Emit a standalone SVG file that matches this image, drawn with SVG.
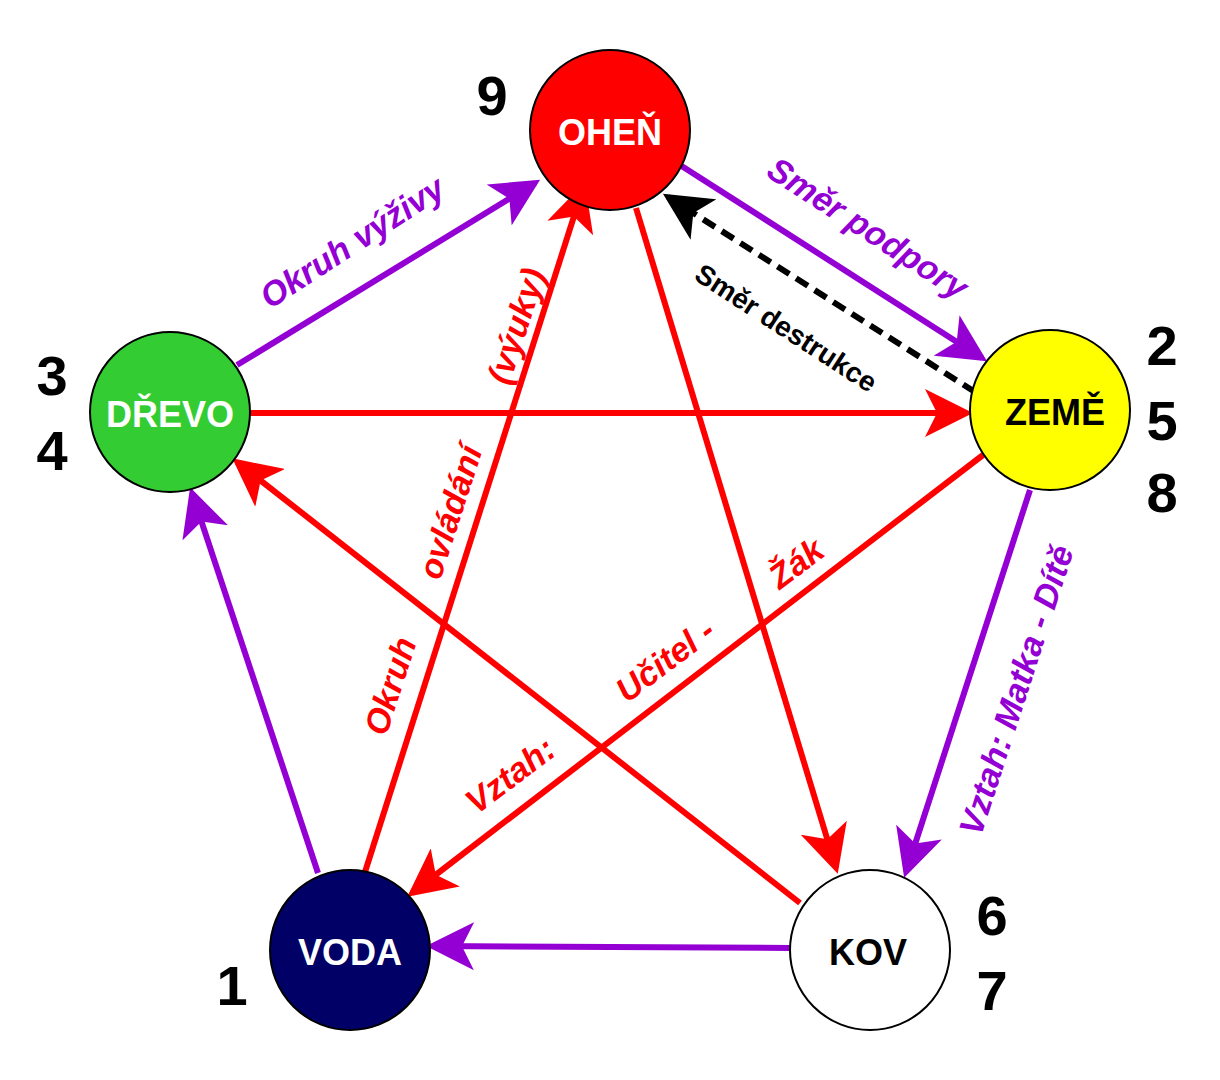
<svg xmlns="http://www.w3.org/2000/svg" width="1220" height="1080" viewBox="0 0 1220 1080">
<style>
.n{stroke:#000;stroke-width:2}
.t{font-family:"Liberation Sans",Arial,sans-serif;font-weight:bold;text-anchor:middle;dominant-baseline:central}
.nt{font-size:36px}
.num{font-family:"Liberation Sans",Arial,sans-serif;font-weight:bold;font-size:56px;text-anchor:middle;dominant-baseline:central}
.lbl{font-family:"Liberation Sans",Arial,sans-serif;font-weight:bold;font-style:italic;font-size:34px;text-anchor:middle;dominant-baseline:central}
.p{stroke:#9400D3;stroke-width:6;fill:none;marker-end:url(#ap)}
.r{stroke:#FF0000;stroke-width:6;fill:none;marker-end:url(#ar)}
.k{stroke:#000;stroke-width:6;stroke-dasharray:14,8;fill:none;marker-end:url(#ak)}
</style>
<defs>
<marker id="ap" markerWidth="8" markerHeight="8" refX="7" refY="4" orient="auto" markerUnits="strokeWidth"><path d="M0,0L8,4L0,8L2,4z" fill="#9400D3"/></marker>
<marker id="ar" markerWidth="8" markerHeight="8" refX="7" refY="4" orient="auto" markerUnits="strokeWidth"><path d="M0,0L8,4L0,8L2,4z" fill="#FF0000"/></marker>
<marker id="ak" markerWidth="8" markerHeight="8" refX="7" refY="4" orient="auto" markerUnits="strokeWidth"><path d="M0,0L8,4L0,8L2,4z" fill="#000"/></marker>
</defs>
<rect width="1220" height="1080" fill="#fff"/>
<g id="connectors">
<line class="p" x1="237" y1="365" x2="535" y2="183"/>
<line class="p" x1="680" y1="165" x2="982" y2="358"/>
<line class="k" x1="975" y1="392" x2="668" y2="197"/>
<line class="r" x1="250" y1="413" x2="967" y2="413"/>
<line class="p" x1="1030" y1="490" x2="906" y2="872"/>
<line class="p" x1="790" y1="948" x2="432" y2="946"/>
<line class="p" x1="318" y1="873" x2="192" y2="493"/>
<line class="r" x1="365" y1="872" x2="583" y2="188"/>
<line class="r" x1="636" y1="208" x2="836" y2="868"/>
<line class="r" x1="983" y1="455" x2="412" y2="893"/>
<line class="r" x1="800" y1="903" x2="237" y2="462"/>
</g>
<g id="labels">
<text class="lbl" fill="#9400D3" transform="translate(352,242) rotate(-33)">Okruh výživy</text>
<text class="lbl" fill="#9400D3" transform="translate(868,228) rotate(33)">Směr podpory</text>
<text class="lbl" fill="#000" font-size="28" transform="translate(786,328) rotate(33)" style="font-style:normal;font-size:28px">Směr destrukce</text>
<text class="lbl" fill="#9400D3" transform="translate(1016,690) rotate(-72)">Vztah: Matka - Dítě</text>
<text class="lbl" fill="#FF0000" transform="translate(390,686) rotate(-72)">Okruh</text>
<text class="lbl" fill="#FF0000" transform="translate(450,512) rotate(-72)">ovládání</text>
<text class="lbl" fill="#FF0000" transform="translate(516,326) rotate(-72)">(výuky)</text>
<text class="lbl" fill="#FF0000" transform="translate(510,775) rotate(-37)">Vztah:</text>
<text class="lbl" fill="#FF0000" transform="translate(665,660) rotate(-37)">Učitel -</text>
<text class="lbl" fill="#FF0000" transform="translate(796,563) rotate(-37)">Žák</text>
</g>
<g id="ohen"><circle class="n" cx="610" cy="130" r="80" fill="#FF0000"/><text class="t nt" x="610" y="132" fill="#fff">OHEŇ</text></g>
<g id="zeme"><circle class="n" cx="1050" cy="410" r="80" fill="#FFFF00"/><text class="t nt" x="1055" y="412" fill="#000">ZEMĚ</text></g>
<g id="drevo"><circle class="n" cx="170" cy="412" r="80" fill="#33CC33"/><text class="t nt" x="170" y="414" fill="#fff">DŘEVO</text></g>
<g id="voda"><circle class="n" cx="350" cy="950" r="80" fill="#000066"/><text class="t nt" x="350" y="952" fill="#fff">VODA</text></g>
<g id="kov"><circle class="n" cx="870" cy="950" r="80" fill="#fff"/><text class="t nt" x="868" y="952" fill="#000">KOV</text></g>
<g id="numbers">
<text class="num" x="492" y="95">9</text>
<text class="num" x="52" y="375">3</text>
<text class="num" x="52" y="450">4</text>
<text class="num" x="1162" y="345">2</text>
<text class="num" x="1162" y="420">5</text>
<text class="num" x="1162" y="492">8</text>
<text class="num" x="992" y="915">6</text>
<text class="num" x="992" y="990">7</text>
<text class="num" x="232" y="985">1</text>
</g>
</svg>
